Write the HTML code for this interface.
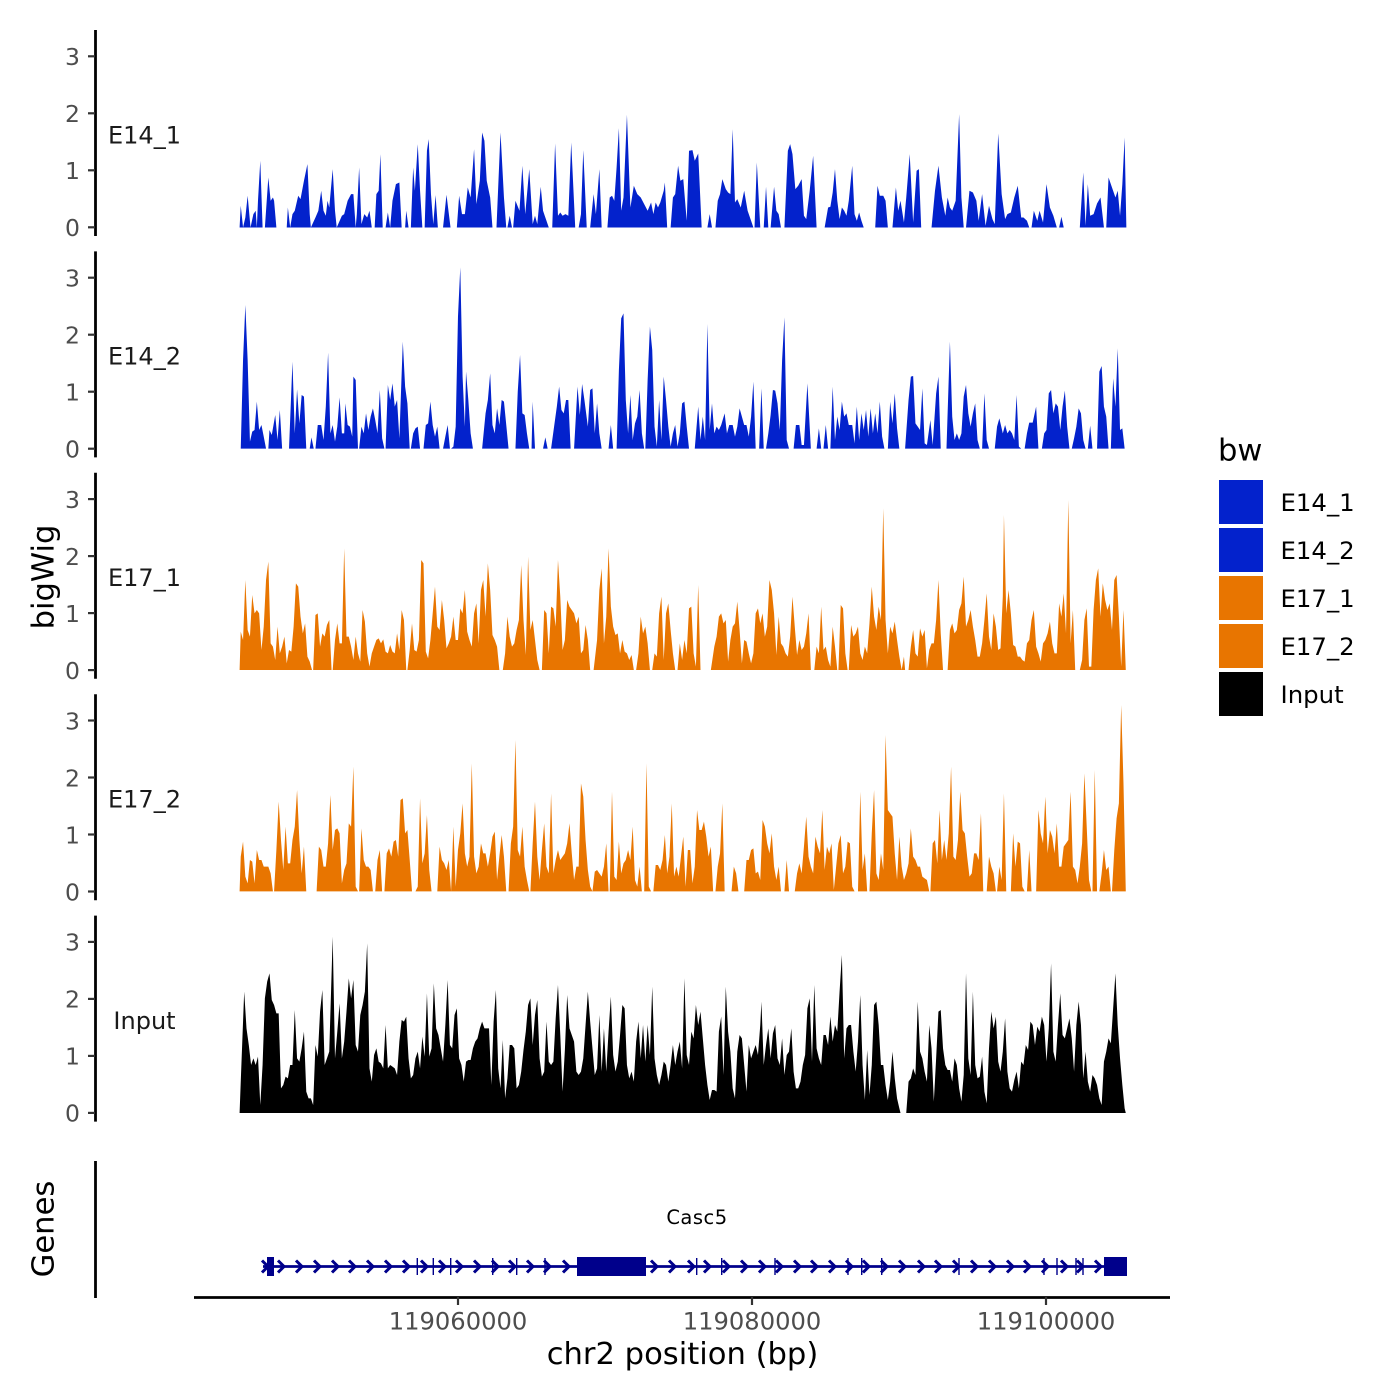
<!DOCTYPE html>
<html>
<head>
<meta charset="utf-8">
<style>
html,body{margin:0;padding:0;background:#fff;}
svg{display:block;}
text{font-family:"DejaVu Sans","Liberation Sans",sans-serif;}
</style>
</head>
<body>
<svg width="1400" height="1400" viewBox="0 0 1400 1400" xmlns="http://www.w3.org/2000/svg">
<rect width="1400" height="1400" fill="#fff"/>

<!-- Panel 1 E14_1 -->
<path fill="#0322CC" transform="translate(235,100.8) scale(0.5747,0.33333)" d="M8,380 L10,315 14,380 18,350 22,285 27,380 32,340 36,330 38,380 40,300 44,180 48,380 52,380 58,230 62,300 66,290 68,300 72,380 90,380 92,320 96,380 100,340 104,330 110,285 114,295 120,240 126,190 130,340 132,380 140,350 145,330 150,270 154,330 158,345 161,300 164,320 170,205 174,330 177,380 186,345 190,340 196,300 202,280 206,280 210,380 212,340 216,200 220,370 225,340 230,350 234,330 238,380 243,380 246,280 250,270 253,160 257,380 262,380 266,335 270,380 274,300 280,250 286,245 290,380 296,380 298,330 302,380 306,380 310,200 313,270 318,130 322,270 326,380 330,380 334,150 337,115 341,280 345,370 349,283 353,380 362,380 368,282 375,380 386,380 390,285 395,340 400,340 405,260 410,290 416,145 420,310 426,240 430,95 434,120 438,240 444,290 448,380 455,380 462,95 468,290 472,380 474,380 478,345 482,380 484,380 488,300 495,330 500,195 505,340 512,205 518,370 522,345 526,370 532,258 536,330 540,350 546,380 552,380 557,128 562,345 566,335 570,345 575,340 580,345 585,125 592,380 598,380 602,340 606,148 612,380 618,380 624,280 628,340 634,205 638,380 648,380 652,290 656,285 660,300 664,200 668,82 672,330 676,290 682,42 688,320 694,255 700,280 706,290 712,310 718,330 724,305 728,340 732,305 736,320 740,305 746,270 748,245 752,380 758,380 762,290 766,280 771,195 775,240 780,235 786,360 790,150 796,148 800,180 806,158 812,380 822,380 826,340 830,380 836,380 840,300 844,280 848,235 854,265 858,275 862,280 866,85 870,305 874,295 880,320 886,270 892,330 898,360 902,380 904,380 908,185 914,380 920,380 924,258 928,380 932,380 938,258 942,330 946,340 950,380 956,380 962,150 966,130 970,160 975,265 980,255 986,235 990,345 994,355 1000,270 1006,165 1012,380 1026,380 1032,320 1036,318 1040,275 1044,205 1048,300 1052,355 1056,320 1060,330 1064,345 1068,300 1074,195 1078,340 1082,360 1086,335 1090,360 1094,380 1114,380 1118,255 1122,285 1128,285 1132,300 1136,380 1144,380 1150,260 1154,330 1158,300 1164,365 1168,290 1174,160 1180,365 1186,210 1190,205 1194,380 1212,380 1218,270 1224,195 1230,290 1236,345 1240,290 1244,320 1248,330 1254,300 1260,40 1264,290 1268,380 1272,380 1278,270 1284,275 1290,300 1294,360 1300,280 1306,375 1312,315 1318,355 1322,370 1328,98 1334,280 1340,355 1344,340 1350,335 1356,290 1362,255 1368,350 1372,350 1378,360 1382,380 1386,380 1390,330 1396,360 1400,330 1406,365 1412,250 1418,320 1424,345 1430,380 1434,380 1438,348 1442,380 1470,380 1476,215 1480,375 1484,250 1488,345 1494,340 1500,308 1506,290 1512,380 1516,380 1520,230 1526,260 1532,290 1536,270 1540,345 1544,250 1548,110 1551,380 Z"/>

<!-- Panel 2 E14_2 -->
<path fill="#0322CC" transform="translate(235,260) scale(0.5747,0.33333)" d="M10,566 L14,300 18,135 22,300 26,545 30,515 34,510 38,425 42,510 46,495 50,530 54,566 58,566 60,510 64,525 70,465 74,540 78,450 82,566 94,566 100,305 104,520 108,388 112,490 116,405 120,410 124,566 130,566 133,532 137,566 140,566 144,495 150,495 154,540 158,440 162,278 166,520 170,495 174,545 178,500 182,412 186,520 190,520 192,430 196,495 200,500 204,530 206,350 210,360 214,566 216,566 220,500 224,520 228,460 232,510 236,470 240,445 244,480 248,520 252,390 256,535 260,566 262,566 266,375 270,420 274,370 278,440 282,420 286,535 290,340 292,245 296,380 300,430 304,566 306,566 310,520 314,505 318,500 322,566 328,566 332,495 336,490 340,425 344,495 348,530 352,500 356,566 362,566 366,530 370,495 374,566 376,566 380,560 384,500 388,170 392,22 396,350 400,500 402,335 406,420 410,520 414,566 430,566 436,460 440,420 444,340 448,495 452,520 456,445 460,495 464,420 468,425 472,495 476,566 488,566 492,395 496,285 500,460 504,465 508,520 512,566 516,566 518,425 522,566 536,566 540,532 544,566 550,566 556,490 560,440 564,380 568,450 572,460 576,420 580,420 584,566 590,566 596,380 600,465 604,372 608,420 614,500 618,390 622,385 626,520 630,430 634,520 638,566 650,566 654,495 658,566 664,566 668,330 672,175 676,160 680,420 684,520 688,405 692,540 696,490 700,470 704,390 708,520 712,566 714,566 718,360 722,200 726,270 730,500 734,560 738,420 742,540 746,350 750,420 754,500 758,560 762,520 766,495 770,560 774,520 778,430 782,425 786,500 790,566 800,566 806,440 810,540 814,470 818,540 822,192 826,510 830,430 834,520 838,500 842,510 846,495 852,460 856,520 860,495 866,495 870,530 874,500 878,445 882,470 886,495 890,495 894,530 898,470 902,365 906,566 912,566 916,385 920,566 924,566 928,520 932,465 936,390 940,392 944,430 948,510 952,300 956,172 960,540 964,566 972,566 976,495 982,495 986,555 990,555 996,370 1002,566 1012,566 1016,505 1020,566 1024,566 1028,495 1032,566 1036,566 1040,380 1044,540 1048,470 1052,510 1056,425 1060,470 1064,460 1068,495 1074,495 1078,550 1082,440 1086,540 1090,460 1094,510 1098,450 1102,530 1106,445 1110,520 1114,460 1118,520 1122,425 1126,530 1130,566 1136,566 1140,425 1144,490 1148,400 1152,505 1156,566 1166,566 1172,420 1176,350 1180,348 1184,490 1188,500 1192,510 1196,385 1200,550 1204,555 1210,480 1214,555 1220,400 1224,350 1228,566 1238,566 1244,245 1248,470 1252,540 1256,520 1260,540 1264,520 1268,410 1272,375 1276,460 1280,500 1284,460 1288,430 1292,540 1296,566 1300,566 1304,400 1308,540 1312,566 1322,566 1326,500 1330,475 1336,520 1340,495 1344,520 1348,510 1352,520 1356,540 1360,405 1364,560 1368,566 1374,566 1378,520 1382,488 1388,488 1394,440 1398,566 1404,566 1408,520 1412,510 1416,400 1420,390 1424,460 1428,430 1432,440 1436,510 1440,440 1444,392 1448,500 1452,566 1456,566 1460,535 1464,500 1468,445 1472,460 1476,540 1480,566 1484,566 1488,497 1492,566 1500,566 1504,335 1508,318 1512,440 1516,470 1520,566 1524,566 1528,355 1532,440 1536,265 1540,510 1544,505 1548,566 Z"/>

<!-- Panel 3 E17_1 -->
<path fill="#E87500" transform="translate(235,480) scale(0.5747,0.33333)" d="M8,570 L10,455 14,480 18,300 22,450 26,470 30,345 34,400 38,390 42,400 46,510 50,440 54,300 58,245 62,490 66,500 70,540 74,440 78,520 82,500 86,470 90,550 94,510 98,515 102,440 106,310 110,320 114,410 118,460 122,430 126,530 130,545 134,570 136,570 140,405 144,400 148,500 152,460 156,470 160,435 164,420 168,570 170,570 174,480 178,430 182,490 186,490 190,205 194,470 198,470 202,500 206,540 210,470 214,520 218,545 222,390 226,425 230,520 234,560 238,520 242,500 246,480 250,475 254,490 258,478 262,515 266,520 270,495 274,515 278,520 282,460 286,510 290,390 294,420 298,570 300,570 304,510 308,430 312,510 316,515 320,480 324,240 328,250 332,515 336,535 340,480 344,400 348,320 352,440 356,450 360,360 364,420 368,505 372,490 376,470 380,410 384,480 388,480 392,385 396,400 400,330 404,455 408,480 412,500 416,400 420,370 424,490 428,330 432,300 436,410 440,250 444,330 448,465 452,480 456,500 460,570 466,570 470,520 474,410 478,470 482,500 486,490 490,450 494,420 498,255 502,420 506,525 510,230 514,450 518,420 522,480 526,540 530,570 534,570 538,390 542,400 546,520 550,380 554,385 558,440 562,240 566,350 570,510 574,480 578,360 582,380 586,390 590,400 594,430 598,410 602,520 606,510 610,435 614,480 618,570 624,570 630,480 634,330 638,265 642,490 646,410 650,205 654,380 658,440 662,465 666,460 670,520 674,480 678,515 682,520 686,540 690,525 694,570 698,570 702,520 706,410 710,460 714,440 718,490 722,570 726,570 730,520 734,530 738,400 742,350 746,540 750,400 754,370 758,450 762,520 766,570 770,570 774,490 778,540 782,480 786,520 790,385 794,380 798,520 802,560 806,315 810,570 828,570 834,500 838,470 842,410 846,400 850,430 854,420 858,545 862,480 866,440 870,430 874,365 878,450 882,550 886,480 890,485 894,520 898,550 902,520 906,400 910,385 914,430 918,400 922,470 926,440 930,300 934,330 938,400 942,525 946,410 950,490 954,500 958,520 962,530 966,470 970,350 974,440 978,525 982,480 986,510 990,500 994,460 998,400 1002,570 1008,570 1012,500 1016,520 1020,380 1024,510 1028,500 1032,540 1036,560 1040,440 1044,500 1048,570 1050,570 1054,375 1058,385 1062,520 1066,570 1068,570 1072,435 1076,470 1080,460 1084,440 1088,520 1092,540 1096,500 1100,520 1104,430 1108,320 1112,410 1116,450 1120,380 1124,420 1128,85 1132,420 1136,520 1140,440 1144,460 1148,425 1152,480 1156,530 1160,570 1164,530 1166,570 1172,570 1176,500 1180,450 1184,520 1188,530 1192,445 1196,470 1200,450 1204,565 1208,510 1212,490 1216,490 1220,420 1224,300 1228,460 1232,570 1240,570 1244,450 1248,430 1252,460 1256,450 1260,390 1264,370 1268,290 1272,440 1276,420 1280,390 1284,440 1288,480 1292,530 1296,530 1300,490 1304,420 1308,340 1312,470 1316,510 1320,400 1324,440 1328,510 1332,505 1336,350 1338,105 1342,400 1346,330 1350,400 1354,495 1358,500 1362,530 1366,530 1370,540 1374,545 1378,490 1382,480 1386,420 1390,390 1394,500 1398,520 1402,545 1406,490 1410,480 1414,460 1418,425 1422,490 1426,520 1430,520 1434,370 1438,410 1442,340 1446,460 1450,60 1454,490 1458,390 1462,570 1470,570 1474,540 1478,420 1482,385 1486,560 1490,560 1494,390 1498,300 1502,265 1506,410 1510,310 1514,360 1518,390 1522,370 1526,450 1530,300 1534,285 1538,410 1542,560 1546,390 1550,570 Z"/>

<!-- Panel 4 E17_2 -->
<path fill="#E87500" transform="translate(235,700) scale(0.5747,0.33333)" d="M8,574 L10,470 14,425 18,530 22,550 26,480 30,485 34,550 38,450 42,480 46,480 50,500 54,500 58,500 62,520 66,574 68,574 72,450 76,305 80,420 84,510 88,380 92,490 96,490 100,420 104,380 108,270 112,420 116,520 120,440 124,574 142,574 146,440 150,450 154,500 158,500 162,430 166,285 170,450 174,390 178,385 182,400 186,550 190,510 194,490 198,370 202,380 206,200 210,560 214,574 216,574 220,385 224,480 228,500 232,500 236,510 240,574 244,574 248,480 252,450 256,574 260,574 264,460 268,445 272,470 276,425 280,420 284,470 288,300 292,295 296,400 300,390 304,480 308,574 314,574 318,560 322,295 326,490 330,460 334,345 338,510 342,574 352,574 356,440 360,480 364,490 368,510 372,480 376,574 380,380 384,560 388,450 392,400 396,310 400,460 404,500 408,470 412,190 416,470 420,520 424,500 428,430 432,460 436,460 440,500 444,460 448,410 452,395 456,540 460,470 464,405 468,470 472,574 476,574 480,430 484,380 488,120 492,450 496,470 500,380 504,500 508,540 512,574 514,574 518,430 522,305 526,470 530,540 534,450 538,370 542,500 546,520 550,280 554,520 558,480 562,450 566,480 570,470 574,460 578,430 582,370 586,460 590,540 594,500 598,500 602,250 606,290 610,420 614,510 618,560 622,574 626,515 630,510 634,520 638,530 642,500 646,430 650,574 652,574 656,275 660,530 664,540 668,425 672,520 676,490 680,480 684,450 688,480 692,380 696,540 700,560 704,500 708,574 712,574 716,190 720,560 724,574 728,574 732,495 736,495 740,510 744,480 748,405 752,520 756,470 760,310 764,530 768,500 772,530 776,470 780,410 784,560 788,450 792,450 796,550 800,500 804,330 808,390 812,390 816,365 820,410 824,470 828,440 832,574 836,574 840,500 844,460 848,310 852,574 864,574 868,500 872,520 876,574 886,574 890,480 894,480 898,450 902,445 906,520 910,515 914,540 918,360 922,380 926,430 930,460 934,400 938,500 942,540 946,500 950,574 956,574 960,480 964,574 974,574 978,520 982,490 986,520 990,440 994,350 998,470 1002,500 1006,520 1010,410 1014,440 1018,460 1022,330 1026,510 1030,440 1034,460 1038,430 1042,570 1046,500 1050,430 1054,405 1058,520 1062,500 1066,425 1070,430 1074,560 1078,574 1084,574 1088,275 1092,510 1096,460 1100,574 1104,574 1108,400 1112,270 1116,520 1120,540 1124,460 1128,510 1132,105 1136,330 1140,340 1144,350 1148,460 1152,540 1156,410 1160,500 1164,540 1168,520 1172,490 1176,385 1180,470 1184,480 1188,500 1192,500 1196,530 1200,535 1204,540 1208,574 1210,574 1214,430 1218,420 1222,490 1226,330 1230,480 1234,420 1238,480 1242,400 1246,200 1250,470 1254,480 1258,420 1262,275 1266,390 1270,400 1274,470 1278,530 1282,520 1286,460 1290,460 1294,480 1298,340 1302,574 1308,574 1312,470 1316,500 1320,520 1324,574 1326,574 1330,500 1334,540 1338,280 1342,574 1350,574 1354,400 1358,500 1362,425 1366,430 1370,560 1374,574 1378,574 1382,450 1386,574 1394,574 1398,330 1402,400 1406,430 1410,290 1414,460 1418,390 1422,410 1426,460 1430,370 1434,500 1438,500 1442,440 1446,430 1450,420 1454,275 1458,500 1462,510 1466,550 1470,500 1474,430 1478,220 1482,380 1486,540 1490,574 1492,574 1496,210 1500,574 1504,574 1508,520 1512,450 1516,510 1520,500 1524,574 1526,574 1530,450 1534,355 1538,310 1542,15 1546,250 1550,574 Z"/>

<!-- Panel 5 Input -->
<path fill="#000000" transform="translate(235,925) scale(0.5747,0.33333)" d="M8,564 L10,470 16,200 20,310 24,360 28,420 32,400 36,420 40,395 44,540 48,420 52,220 56,170 60,145 64,225 68,240 72,265 76,265 80,490 84,480 88,455 92,460 96,420 100,420 104,255 108,400 112,410 116,370 120,320 124,500 128,520 132,520 136,540 140,360 144,395 148,260 152,195 156,420 160,400 164,380 170,35 174,400 178,320 182,235 186,400 190,350 194,260 198,160 202,220 206,165 210,360 214,380 218,270 222,240 226,200 230,55 234,430 238,470 242,390 246,370 250,410 254,415 258,430 262,300 266,430 270,420 274,425 278,430 282,450 286,350 290,285 294,290 298,275 302,400 306,460 310,450 314,400 318,380 322,430 326,335 330,395 334,205 338,395 342,370 346,175 350,310 354,330 358,370 362,410 366,300 370,165 374,360 378,370 382,270 386,250 390,400 394,420 398,470 402,410 406,405 410,405 414,370 418,350 422,340 426,310 430,290 434,310 438,310 442,310 446,480 450,290 454,195 458,430 462,490 466,345 470,520 474,460 478,360 482,360 486,370 490,490 494,480 498,440 502,375 506,320 510,240 514,220 518,360 522,270 526,225 530,400 534,455 538,440 542,290 546,410 550,420 554,410 558,280 562,180 566,330 570,500 574,375 578,210 582,310 586,330 590,350 594,440 598,450 602,440 606,400 610,300 614,200 618,290 622,370 626,450 630,430 634,270 638,440 642,310 646,440 650,320 654,215 658,390 662,440 666,410 670,330 674,240 678,250 682,420 686,460 690,440 694,470 698,350 702,290 706,400 710,300 714,410 718,300 722,390 726,185 730,400 734,450 738,480 742,450 746,410 750,420 754,470 758,420 762,360 766,420 770,380 774,350 778,430 782,160 786,390 790,420 794,320 798,340 802,240 806,300 810,260 814,340 818,420 822,480 826,525 830,495 834,495 838,500 842,320 846,275 850,450 854,185 858,320 862,380 866,490 870,520 874,380 878,330 882,340 886,420 890,500 894,360 898,400 902,380 906,360 910,390 914,300 916,230 920,420 924,360 928,310 932,400 936,325 940,300 944,400 948,420 952,340 956,450 960,390 964,380 968,310 972,440 976,490 980,490 984,470 988,420 992,390 996,250 1000,220 1004,410 1008,180 1012,370 1016,400 1020,420 1024,330 1028,330 1032,360 1036,275 1040,350 1044,300 1048,320 1052,200 1056,90 1060,400 1064,310 1068,300 1072,300 1076,380 1080,440 1084,350 1088,210 1092,420 1096,525 1100,375 1104,510 1108,420 1112,240 1116,230 1120,300 1124,420 1128,420 1132,480 1136,525 1140,470 1144,380 1148,460 1152,520 1156,550 1158,564 1168,564 1172,470 1176,460 1180,430 1184,450 1188,230 1192,380 1196,400 1200,440 1204,470 1208,300 1212,370 1216,530 1220,400 1224,260 1228,255 1232,370 1236,420 1240,435 1244,435 1248,470 1252,400 1256,420 1260,490 1264,530 1268,450 1272,145 1276,400 1280,450 1284,200 1288,420 1292,460 1296,455 1300,395 1304,500 1308,535 1312,370 1316,260 1320,310 1324,275 1328,410 1332,440 1336,380 1340,280 1344,440 1348,490 1352,500 1356,465 1360,440 1364,490 1368,410 1372,420 1376,360 1380,375 1384,290 1388,300 1392,360 1396,305 1400,320 1404,275 1408,300 1412,410 1416,310 1420,115 1424,380 1428,410 1432,300 1436,205 1440,330 1444,340 1448,310 1452,280 1456,340 1460,440 1464,300 1468,230 1472,300 1476,460 1480,380 1484,470 1488,500 1492,450 1496,460 1500,480 1504,520 1508,540 1512,410 1516,380 1520,340 1524,355 1528,250 1532,145 1536,300 1540,400 1544,480 1548,550 1550,564 Z"/>

<!-- Y axes lines -->
<g stroke="#000" stroke-width="2.8" fill="none">
<line x1="95.5" y1="30" x2="95.5" y2="236"/>
<line x1="95.5" y1="251.4" x2="95.5" y2="457.4"/>
<line x1="95.5" y1="472.8" x2="95.5" y2="678.8"/>
<line x1="95.5" y1="694.2" x2="95.5" y2="900.2"/>
<line x1="95.5" y1="915.6" x2="95.5" y2="1121.6"/>
<line x1="95.5" y1="1161" x2="95.5" y2="1298"/>
<line x1="194" y1="1297.5" x2="1170" y2="1297.5"/>
</g>

<!-- Y ticks -->
<g stroke="#333" stroke-width="2.2">
<line x1="88" y1="227.3" x2="95" y2="227.3"/><line x1="88" y1="170.3" x2="95" y2="170.3"/><line x1="88" y1="113.3" x2="95" y2="113.3"/><line x1="88" y1="56.3" x2="95" y2="56.3"/>
<line x1="88" y1="448.7" x2="95" y2="448.7"/><line x1="88" y1="391.7" x2="95" y2="391.7"/><line x1="88" y1="334.7" x2="95" y2="334.7"/><line x1="88" y1="277.7" x2="95" y2="277.7"/>
<line x1="88" y1="670.1" x2="95" y2="670.1"/><line x1="88" y1="613.1" x2="95" y2="613.1"/><line x1="88" y1="556.1" x2="95" y2="556.1"/><line x1="88" y1="499.1" x2="95" y2="499.1"/>
<line x1="88" y1="891.5" x2="95" y2="891.5"/><line x1="88" y1="834.5" x2="95" y2="834.5"/><line x1="88" y1="777.5" x2="95" y2="777.5"/><line x1="88" y1="720.5" x2="95" y2="720.5"/>
<line x1="88" y1="1112.9" x2="95" y2="1112.9"/><line x1="88" y1="1055.9" x2="95" y2="1055.9"/><line x1="88" y1="998.9" x2="95" y2="998.9"/><line x1="88" y1="941.9" x2="95" y2="941.9"/>
<line x1="458" y1="1297" x2="458" y2="1305"/><line x1="752" y1="1297" x2="752" y2="1305"/><line x1="1046" y1="1297" x2="1046" y2="1305"/>
</g>

<!-- Y tick labels -->
<g font-size="23.5" fill="#4D4D4D" text-anchor="end">
<text x="80" y="236.1">0</text><text x="80" y="179.1">1</text><text x="80" y="122.1">2</text><text x="80" y="65.1">3</text>
<text x="80" y="457.5">0</text><text x="80" y="400.5">1</text><text x="80" y="343.5">2</text><text x="80" y="286.5">3</text>
<text x="80" y="678.9">0</text><text x="80" y="621.9">1</text><text x="80" y="564.9">2</text><text x="80" y="507.9">3</text>
<text x="80" y="900.3">0</text><text x="80" y="843.3">1</text><text x="80" y="786.3">2</text><text x="80" y="729.3">3</text>
<text x="80" y="1121.7">0</text><text x="80" y="1064.7">1</text><text x="80" y="1007.7">2</text><text x="80" y="950.7">3</text>
</g>

<!-- X tick labels -->
<g font-size="24.2" fill="#4D4D4D" text-anchor="middle">
<text x="458" y="1329.5">119060000</text>
<text x="752" y="1329.5">119080000</text>
<text x="1046" y="1329.5">119100000</text>
</g>

<!-- Facet labels -->
<g font-size="24" fill="#1A1A1A" text-anchor="middle">
<text x="144.5" y="143.3">E14_1</text>
<text x="144.5" y="364.7">E14_2</text>
<text x="144.5" y="586.1">E17_1</text>
<text x="144.5" y="807.5">E17_2</text>
<text x="144.5" y="1028.9">Input</text>
</g>

<!-- Axis titles -->
<text x="682.5" y="1364" font-size="30.6" fill="#000" text-anchor="middle">chr2 position (bp)</text>
<text transform="translate(53.3,577) rotate(-90)" font-size="30.6" fill="#000" text-anchor="middle">bigWig</text>
<text transform="translate(53.3,1229) rotate(-90)" font-size="30.6" fill="#000" text-anchor="middle">Genes</text>

<!-- Gene track -->
<g stroke="#00008B" fill="none">
<line x1="263" y1="1266.5" x2="1127" y2="1266.5" stroke-width="2.7"/>
<path stroke-width="3" d="M262,1260.5 L268,1266.5 L262,1272.5 M278,1260.5 L284,1266.5 L278,1272.5 M296,1260.5 L302,1266.5 L296,1272.5 M314,1260.5 L320,1266.5 L314,1272.5 M332,1260.5 L338,1266.5 L332,1272.5 M349,1260.5 L355,1266.5 L349,1272.5 M367,1260.5 L373,1266.5 L367,1272.5 M385,1260.5 L391,1266.5 L385,1272.5 M403,1260.5 L409,1266.5 L403,1272.5 M421,1260.5 L427,1266.5 L421,1272.5 M439,1260.5 L445,1266.5 L439,1272.5 M456,1260.5 L462,1266.5 L456,1272.5 M474,1260.5 L480,1266.5 L474,1272.5 M492,1260.5 L498,1266.5 L492,1272.5 M509,1260.5 L515,1266.5 L509,1272.5 M527,1260.5 L533,1266.5 L527,1272.5 M544,1260.5 L550,1266.5 L544,1272.5 M563,1260.5 L569,1266.5 L563,1272.5 M651,1260.5 L657,1266.5 L651,1272.5 M669,1260.5 L675,1266.5 L669,1272.5 M688,1260.5 L694,1266.5 L688,1272.5 M704,1260.5 L710,1266.5 L704,1272.5 M723,1260.5 L729,1266.5 L723,1272.5 M741,1260.5 L747,1266.5 L741,1272.5 M759,1260.5 L765,1266.5 L759,1272.5 M776,1260.5 L782,1266.5 L776,1272.5 M794,1260.5 L800,1266.5 L794,1272.5 M811,1260.5 L817,1266.5 L811,1272.5 M829,1260.5 L835,1266.5 L829,1272.5 M846,1260.5 L852,1266.5 L846,1272.5 M863,1260.5 L869,1266.5 L863,1272.5 M881,1260.5 L887,1266.5 L881,1272.5 M899,1260.5 L905,1266.5 L899,1272.5 M918,1260.5 L924,1266.5 L918,1272.5 M935,1260.5 L941,1266.5 L935,1272.5 M953,1260.5 L959,1266.5 L953,1272.5 M971,1260.5 L977,1266.5 L971,1272.5 M989,1260.5 L995,1266.5 L989,1272.5 M1007,1260.5 L1013,1266.5 L1007,1272.5 M1024,1260.5 L1030,1266.5 L1024,1272.5 M1042,1260.5 L1048,1266.5 L1042,1272.5 M1061,1260.5 L1067,1266.5 L1061,1272.5 M1077,1260.5 L1083,1266.5 L1077,1272.5 M1095,1260.5 L1101,1266.5 L1095,1272.5"/>
<path stroke-width="1.4" d="M268,1258 V1275 M417.3,1258 V1275 M433.3,1258 V1275 M450.7,1258 V1275 M492.7,1258 V1275 M516.7,1258 V1275 M545,1258 V1275 M696.7,1258 V1275 M721.7,1258 V1275 M775,1258 V1275 M848,1258 V1275 M861.7,1258 V1275 M881.7,1258 V1275 M959,1258 V1275 M1044,1258 V1275 M1057,1258 V1275 M1076,1258 V1275 M1083,1258 V1275"/>
</g>
<g fill="#00008B">
<rect x="267" y="1257" width="7" height="19"/>
<rect x="577" y="1257" width="69" height="19"/>
<rect x="1104" y="1257" width="23" height="19"/>
</g>
<text x="697" y="1224" font-size="19.5" fill="#000" text-anchor="middle" letter-spacing="0.5">Casc5</text>

<!-- Legend -->
<text x="1218" y="460.5" font-size="30.6" fill="#000">bw</text>
<rect x="1219" y="480" width="44" height="44" fill="#0322CC"/>
<rect x="1219" y="528" width="44" height="44" fill="#0322CC"/>
<rect x="1219" y="576" width="44" height="44" fill="#E87500"/>
<rect x="1219" y="624" width="44" height="44" fill="#E87500"/>
<rect x="1219" y="672" width="44" height="44" fill="#000000"/>
<g font-size="24.4" fill="#000">
<text x="1280.5" y="510.9">E14_1</text>
<text x="1280.5" y="558.9">E14_2</text>
<text x="1280.5" y="606.9">E17_1</text>
<text x="1280.5" y="654.9">E17_2</text>
<text x="1280.5" y="702.9">Input</text>
</g>
</svg>
</body>
</html>
